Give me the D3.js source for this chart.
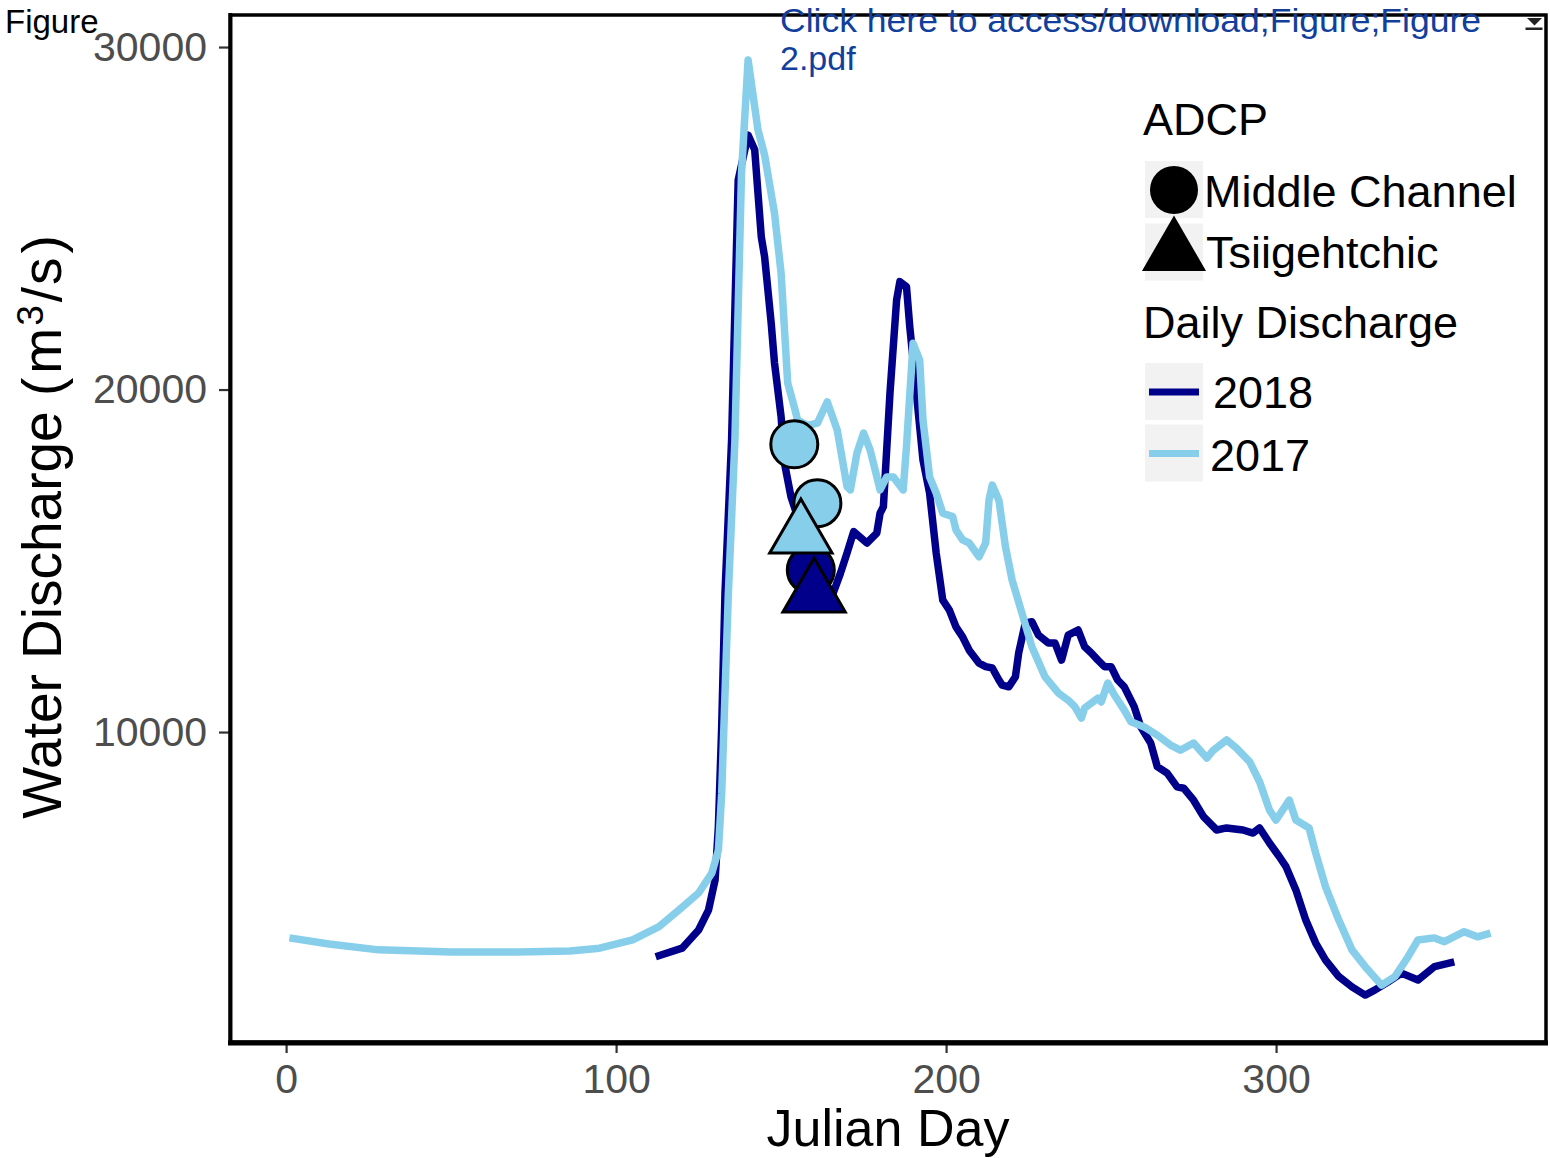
<!DOCTYPE html>
<html>
<head>
<meta charset="utf-8">
<script src="https://cdn.jsdelivr.net/npm/d3@7"></script>
<style>
  html, body { margin: 0; padding: 0; background: #ffffff; }
  svg { display: block; font-family: "Liberation Sans", Arial, Helvetica, sans-serif; }
</style>
</head>
<body>
<svg id="chart" width="1550" height="1158"></svg>
<script>
// Daily discharge, 2017 (Julian day, m3/s)
const days2017 = [1, 13, 28, 50, 70, 86, 95, 105, 113, 119, 125, 129, 131, 132, 133, 134, 136, 138, 140,
  143, 145, 148, 150, 152, 154, 155, 158, 161, 164, 167, 170, 171, 173, 175, 177, 180, 182, 184, 187, 188,
  190, 192, 193, 195, 197, 199, 202, 203, 205, 207, 210, 212, 213, 214, 216, 218, 220, 223, 226, 230,
  234, 237, 239, 241, 242, 246, 247, 249, 251, 254, 256, 260, 264, 268, 271, 275, 279, 281, 285, 288,
  292, 295, 298, 300, 301, 304, 306, 310, 312, 315, 319, 323, 327, 332, 336, 340, 343, 348, 351, 357,
  361, 365];
const discharge2017 = [3990, 3810, 3640, 3580, 3580, 3610, 3690, 3930, 4320, 4800, 5300, 5880, 6550, 8200,
  11100, 14000, 18500, 26300, 29620, 27580, 26850, 25150, 23400, 20190, 19490, 19110, 18950, 19020, 19640,
  18820, 17160, 17070, 18150, 18730, 18230, 17070, 17450, 17450, 17070, 18330, 21350, 20860, 19110, 17450,
  16980, 16390, 16290, 15900, 15610, 15520, 15120, 15520, 16770, 17210, 16770, 15410, 14440, 13470, 12490,
  11610, 11140, 10930, 10740, 10410, 10700, 10990, 10880, 11430, 11080, 10640, 10300, 10150, 9910, 9620,
  9470, 9680, 9240, 9470, 9770, 9530, 9130, 8550, 7720, 7430, 7580, 8010, 7430, 7200, 6470, 5480, 4510,
  3640, 3150, 2610, 2860, 3440, 3930, 3990, 3880, 4170, 4020, 4130];

// Daily discharge, 2018 (Julian day, m3/s)
const days2018 = [112, 120, 125, 128, 130, 131, 132, 133, 135, 137, 140, 142, 144, 145, 147, 148, 150, 151,
  153, 157, 160, 163, 165, 168, 170, 172, 176, 179, 180, 181, 183, 185, 186, 188, 189, 191, 193, 195, 197,
  199, 201, 203, 205, 207, 210, 212, 214, 216, 217, 219, 221, 222, 224, 226, 228, 231, 233, 235, 237, 240,
  242, 244, 246, 248, 250, 252, 254, 257, 259, 262, 264, 267, 270, 272, 275, 278, 282, 285, 290, 293, 295,
  298, 301, 303, 306, 309, 312, 315, 319, 323, 327, 330, 334, 338, 343, 348, 354];
const discharge2018 = [3440, 3690, 4220, 4800, 5680, 7240, 10150, 14060, 18530, 26120, 27430, 27000, 24460,
  23880, 21940, 20780, 19210, 17860, 16870, 15700, 14800, 14100, 13850, 14640, 15230, 15850, 15520, 15810,
  16390, 16580, 19900, 22610, 23150, 23000, 21830, 19900, 17940, 16980, 15230, 13850, 13560, 13070, 12780,
  12390, 12010, 11910, 11870, 11520, 11370, 11320, 11610, 12310, 13180, 13220, 12830, 12600, 12600, 12100,
  12830, 12980, 12490, 12310, 12100, 11910, 11910, 11520, 11320, 10740, 10150, 9680, 8990, 8800, 8400, 8360,
  8010, 7530, 7140, 7200, 7140, 7050, 7200, 6760, 6360, 6070, 5390, 4510, 3840, 3340, 2860, 2560, 2320,
  2470, 2710, 2960, 2760, 3150, 3290];

// ADCP discharge measurements
const adcpDays   = [154, 161, 159, 156, 160];
const adcpValues = [18400, 16680, 14730, 15750, 14030];
const adcpSite   = ["Middle Channel", "Middle Channel", "Middle Channel", "Tsiigehtchic", "Tsiigehtchic"];
const adcpYear   = ["2017", "2017", "2018", "2017", "2018"];

// Axis ticks and legend entries
const xTicks = [0, 100, 200, 300];
const yTicks = [10000, 20000, 30000];
const siteNames = ["Middle Channel", "Tsiigehtchic"];
const yearNames = ["2018", "2017"];

const yearColor = { "2018": "#00008B", "2017": "#87CEEB" };

const svg = d3.select("#chart");

const x = d3.scaleLinear().domain([-17, 382.1]).range([230, 1547]);
const y = d3.scaleLinear().domain([950, 30965]).range([1042, 14]);

// triangle centred on its centroid, r = distance centre-to-apex
function triPath(r) {
  const h = r * 0.866;
  return `M0,${-r}L${h},${r / 2}L${-h},${r / 2}Z`;
}

// ---- panel frame ----
svg.append("rect")
  .attr("x", 230.5).attr("y", 15)
  .attr("width", 1546 - 230.5).attr("height", 1042 - 15)
  .attr("fill", "none").attr("stroke", "#000").attr("stroke-width", 3.5);

// ---- axes ----
const yAxis = svg.append("g")
  .attr("transform", "translate(230,0)")
  .call(d3.axisLeft(y).tickValues(yTicks).tickSize(11).tickPadding(12).tickFormat(d3.format("d")));
const xAxis = svg.append("g")
  .attr("transform", "translate(0,1042)")
  .call(d3.axisBottom(x).tickValues(xTicks).tickSize(11).tickPadding(11).tickFormat(d3.format("d")));

[xAxis, yAxis].forEach(g => {
  g.select(".domain").remove();
  g.selectAll(".tick line").attr("stroke", "#333333").attr("stroke-width", 2.2);
  g.selectAll(".tick text")
    .attr("fill", "#4D4D4D")
    .style("font-size", "41px")
    .style("font-family", "'Liberation Sans', Arial, sans-serif");
});

svg.append("line")
  .attr("x1", 228).attr("x2", 1548).attr("y1", 1043).attr("y2", 1043)
  .attr("stroke", "#000").attr("stroke-width", 5);
svg.append("line")
  .attr("x1", 230.3).attr("x2", 230.3).attr("y1", 13).attr("y2", 1045)
  .attr("stroke", "#000").attr("stroke-width", 4);

// ---- discharge lines ----
const line = d3.line().x(d => x(d[0])).y(d => y(d[1]));
const series = [
  { year: "2018", pts: d3.zip(days2018, discharge2018) },
  { year: "2017", pts: d3.zip(days2017, discharge2017) }
];
svg.append("g").selectAll("path")
  .data(series)
  .join("path")
  .attr("d", d => line(d.pts))
  .attr("fill", "none")
  .attr("stroke", d => yearColor[d.year])
  .attr("stroke-width", 7.5)
  .attr("stroke-linejoin", "round")
  .attr("stroke-linecap", "butt");

// ---- ADCP points ----
const adcp = adcpDays.map((d, i) => ({ day: d, q: adcpValues[i], site: adcpSite[i], year: adcpYear[i] }));
const pts = svg.append("g");
pts.selectAll("circle")
  .data(adcp.filter(d => d.site === "Middle Channel"))
  .join("circle")
  .attr("cx", d => x(d.day)).attr("cy", d => y(d.q)).attr("r", 23.5)
  .attr("fill", d => yearColor[d.year])
  .attr("stroke", "#000").attr("stroke-width", 3);
pts.selectAll("path")
  .data(adcp.filter(d => d.site === "Tsiigehtchic"))
  .join("path")
  .attr("transform", d => `translate(${x(d.day)},${y(d.q)})`)
  .attr("d", triPath(36))
  .attr("fill", d => yearColor[d.year])
  .attr("stroke", "#000").attr("stroke-width", 3)
  .attr("stroke-linejoin", "miter");

// ---- axis titles ----
svg.append("text")
  .attr("x", 888).attr("y", 1146)
  .attr("text-anchor", "middle")
  .style("font-size", "52px").attr("fill", "#000")
  .text("Julian Day");

const yTitle = svg.append("text")
  .attr("transform", "translate(61,527) rotate(-90)")
  .attr("text-anchor", "middle")
  .style("font-size", "55px").attr("fill", "#000");
yTitle.append("tspan").text("Water Discharge (");
yTitle.append("tspan").attr("dx", 4).text("m");
yTitle.append("tspan").attr("dx", 2).attr("dy", -18).style("font-size", "37px").text("3");
yTitle.append("tspan").attr("dx", 3).attr("dy", 18).text("/");
yTitle.append("tspan").attr("dx", 2).text("s");
yTitle.append("tspan").attr("dx", 4).text(")");

// ---- legend ----
const leg = svg.append("g").style("font-size", "45px").attr("fill", "#000");
leg.append("text").attr("x", 1143).attr("y", 135).text("ADCP");
const siteRow = leg.selectAll("g.site").data(siteNames).join("g")
  .attr("class", "site")
  .attr("transform", (d, i) => `translate(1145,${161 + i * 62.5})`);
siteRow.append("rect").attr("width", 58).attr("height", 57).attr("fill", "#F2F2F2");
siteRow.each(function (d) {
  const g = d3.select(this);
  if (d === "Middle Channel") {
    g.append("circle").attr("cx", 29).attr("cy", 29).attr("r", 24).attr("fill", "#000");
  } else {
    g.append("path").attr("transform", "translate(29,29)").attr("d", triPath(37)).attr("fill", "#000");
  }
});
siteRow.append("text").attr("x", (d, i) => i === 0 ? 59 : 61).attr("y", (d, i) => i === 0 ? 46 : 44).text(d => d);

leg.append("text").attr("x", 1143).attr("y", 338).text("Daily Discharge");
const yearRow = leg.selectAll("g.yr").data(yearNames).join("g")
  .attr("class", "yr")
  .attr("transform", (d, i) => `translate(1145,${363 + i * 61.5})`);
yearRow.append("rect").attr("width", 58).attr("height", 57).attr("fill", "#F2F2F2");
yearRow.append("line").attr("x1", 4).attr("x2", 54).attr("y1", 29).attr("y2", 29)
  .attr("stroke", d => yearColor[d]).attr("stroke-width", 7);
yearRow.append("text").attr("x", (d, i) => i === 0 ? 68 : 65).attr("y", (d, i) => i === 0 ? 45 : 46).text(d => d);

// ---- page header text ----
svg.append("text").attr("x", 5).attr("y", 33)
  .style("font-size", "33px").attr("fill", "#000").text("Figure");
svg.append("text").attr("x", 780).attr("y", 32)
  .style("font-size", "34px").attr("fill", "#123F9C")
  .attr("textLength", 701).attr("lengthAdjust", "spacingAndGlyphs")
  .text("Click here to access/download;Figure;Figure");
svg.append("text").attr("x", 780).attr("y", 70)
  .style("font-size", "34px").attr("fill", "#123F9C")
  .text("2.pdf");

// download icon
svg.append("path").attr("d", "M1527,18L1542,18L1534.5,25.5Z").attr("fill", "#222");
svg.append("rect").attr("x", 1525.5).attr("y", 27.5).attr("width", 17).attr("height", 2.5).attr("fill", "#222");
</script>
</body>
</html>
